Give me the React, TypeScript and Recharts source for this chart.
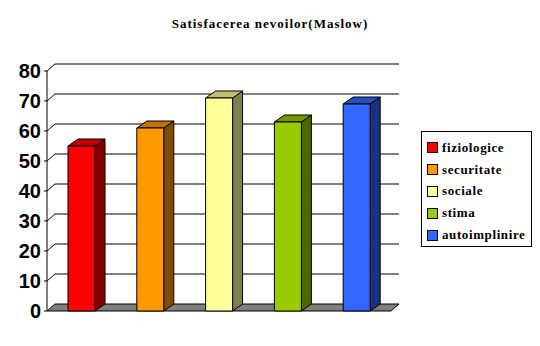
import { Bar, BarChart, CartesianGrid, XAxis, YAxis } from 'recharts';

const categories = ['fiziologice', 'securitate', 'sociale', 'stima', 'autoimplinire'];
const values = [55, 61, 71, 63, 69];
const yTicks = [0, 10, 20, 30, 40, 50, 60, 70, 80];

const frontColors = ['#FF0000', '#FF9900', '#FFFF99', '#99CC00', '#3366FF'];
const sideColors = ['#800000', '#804C00', '#80804C', '#4C6600', '#1A3380'];
const topColors = ['#C00000', '#C07300', '#C0C073', '#739900', '#264DC0'];

const data = categories.map((name, i) => ({ name, value: values[i] }));

const serif = '"Times New Roman", "Liberation Serif", Times, "DejaVu Serif", serif';

// depth of the 3D effect
const BAR_DX = 10;
const BAR_DY = 7;
const WALL_DX = 8;
const WALL_DY = 7;

function Bar3D(props: any) {
  const { x, y, width, height, index } = props;
  if (height == null || width == null) return null;
  const r = x + width;
  const b = y + height;
  return (
    <g stroke="#000" strokeWidth={1} strokeLinejoin="round">
      <polygon
        points={`${r},${y} ${r + BAR_DX},${y - BAR_DY} ${r + BAR_DX},${b - BAR_DY} ${r},${b}`}
        fill={sideColors[index]}
      />
      <polygon
        points={`${x},${y} ${x + BAR_DX},${y - BAR_DY} ${r + BAR_DX},${y - BAR_DY} ${r},${y}`}
        fill={topColors[index]}
      />
      <rect x={x} y={y} width={width} height={height} fill={frontColors[index]} />
    </g>
  );
}

function GridLine3D(props: any) {
  const { x1, y1, x2, y, height } = props;
  const isFloor = Math.abs(y1 - (y + height)) < 1;
  if (isFloor) {
    return (
      <polygon
        points={`${x1},${y1} ${x1 + WALL_DX},${y1 - WALL_DY} ${x2 + WALL_DX},${y1 - WALL_DY} ${x2},${y1}`}
        fill="#808080"
        stroke="#000"
        strokeWidth={1}
      />
    );
  }
  return (
    <polyline
      points={`${x1},${y1} ${x1 + WALL_DX},${y1 - WALL_DY} ${x2 + WALL_DX},${y1 - WALL_DY}`}
      fill="none"
      stroke="#000"
      strokeWidth={1}
    />
  );
}

export default function App() {
  return (
    <div
      style={{
        position: 'absolute',
        left: 0,
        top: 0,
        width: 540,
        height: 346,
        background: '#fff',
      }}
    >
      <div
        style={{
          position: 'absolute',
          left: 0,
          top: 17,
          width: 540,
          textAlign: 'center',
          fontFamily: serif,
          fontWeight: 'bold',
          fontSize: 13,
          letterSpacing: 1,
          lineHeight: '14px',
        }}
      >
        Satisfacerea nevoilor(Maslow)
      </div>
      <BarChart
        width={540}
        height={346}
        data={data}
        margin={{ top: 71, right: 149, bottom: 35, left: 7 }}
        barSize={27}
      >
        <CartesianGrid vertical={false} horizontal={(p: any) => <GridLine3D {...p} />} />
        <XAxis dataKey="name" hide />
        <YAxis
          width={40}
          domain={[0, 80]}
          ticks={yTicks}
          interval={0}
          tickSize={3}
          tickMargin={3}
          axisLine={{ stroke: '#000' }}
          tickLine={{ stroke: '#000' }}
          tick={{
            fill: '#000',
            fontSize: 20,
            fontWeight: 'bold',
            fontFamily: '"Liberation Sans", Arial, sans-serif',
          }}
        />
        <Bar dataKey="value" shape={(p: any) => <Bar3D {...p} />} isAnimationActive={false} />
      </BarChart>
      <div
        style={{
          position: 'absolute',
          left: 421,
          top: 131,
          width: 111,
          height: 116,
          boxSizing: 'border-box',
          border: '1px solid #000',
          paddingTop: 5,
          display: 'flex',
          flexDirection: 'column',
        }}
      >
        {categories.map((c, i) => (
          <div
            key={c}
            style={{
              height: 22.8,
              display: 'flex',
              alignItems: 'center',
              fontFamily: serif,
              fontWeight: 'bold',
              fontSize: 13,
              letterSpacing: 0.6,
            }}
          >
            <span
              style={{
                display: 'inline-block',
                width: 9,
                height: 9,
                marginLeft: 5,
                marginRight: 4,
                border: '1px solid #000',
                background: frontColors[i],
              }}
            />
            {c}
          </div>
        ))}
      </div>
    </div>
  );
}
